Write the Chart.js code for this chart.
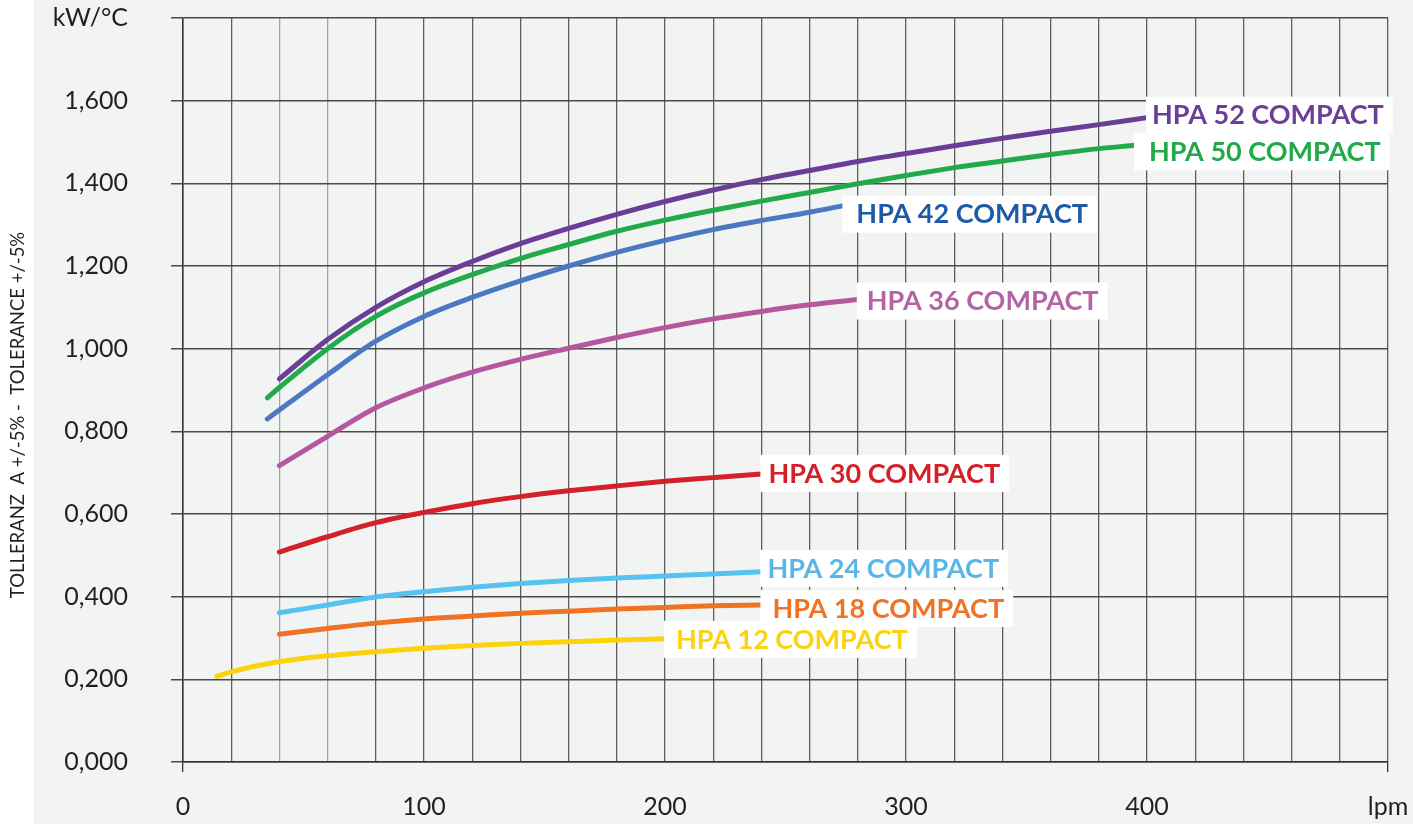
<!DOCTYPE html>
<html>
<head>
<meta charset="utf-8">
<script src="https://cdn.jsdelivr.net/npm/chart.js@4"></script>
<style>
  html, body { margin: 0; padding: 0; background: #ffffff; }
  canvas { display: block; }
</style>
</head>
<body>
<canvas id="chart" width="1413" height="824"></canvas>
<script>
// flow (lpm) / capacity (kW/°C)
const flow52 = [40, 60, 80, 100, 120, 140, 160, 180, 200, 220, 240, 260, 280, 300, 320, 340, 360, 380, 400];
const kw52 = [0.927, 1.022, 1.100, 1.162, 1.211, 1.254, 1.291, 1.325, 1.356, 1.384, 1.409, 1.431, 1.453, 1.472, 1.491, 1.509, 1.526, 1.542, 1.559];

const flow50 = [35, 40, 60, 80, 100, 140, 160, 180, 200, 220, 240, 260, 280, 300, 320, 340, 360, 380, 395];
const kw50 = [0.881, 0.906, 1.000, 1.078, 1.135, 1.218, 1.252, 1.284, 1.311, 1.335, 1.357, 1.378, 1.399, 1.419, 1.438, 1.454, 1.470, 1.484, 1.492];

const flow42 = [35, 60, 80, 100, 120, 140, 160, 180, 200, 220, 240, 260, 274];
const kw42 = [0.830, 0.937, 1.018, 1.078, 1.124, 1.164, 1.200, 1.233, 1.262, 1.288, 1.310, 1.330, 1.346];

const flow36 = [40, 60, 80, 100, 120, 140, 160, 180, 200, 220, 240, 260, 280];
const kw36 = [0.717, 0.788, 0.857, 0.905, 0.943, 0.974, 1.001, 1.027, 1.051, 1.072, 1.090, 1.106, 1.119];

const flow30 = [40, 60, 80, 100, 120, 140, 160, 180, 200, 220, 240];
const kw30 = [0.508, 0.545, 0.579, 0.604, 0.625, 0.642, 0.656, 0.668, 0.679, 0.688, 0.697];

const flow24 = [40, 60, 80, 100, 120, 140, 160, 180, 200, 220, 240];
const kw24 = [0.361, 0.380, 0.399, 0.412, 0.423, 0.432, 0.439, 0.445, 0.450, 0.455, 0.460];

const flow18 = [40, 60, 80, 100, 120, 140, 160, 180, 200, 220, 240];
const kw18 = [0.309, 0.323, 0.336, 0.346, 0.353, 0.360, 0.365, 0.370, 0.374, 0.378, 0.380];

const flow12 = [14, 20, 40, 60, 80, 100, 120, 140, 160, 180, 200];
const kw12 = [0.207, 0.218, 0.243, 0.257, 0.267, 0.275, 0.282, 0.287, 0.291, 0.295, 0.298];

const seriesNames = ["HPA 52 COMPACT", "HPA 50 COMPACT", "HPA 42 COMPACT", "HPA 36 COMPACT",
  "HPA 30 COMPACT", "HPA 24 COMPACT", "HPA 18 COMPACT", "HPA 12 COMPACT"];

const yTicks = [0, 0.2, 0.4, 0.6, 0.8, 1.0, 1.2, 1.4, 1.6, 1.8];
const xTickLabels = [0, 100, 200, 300, 400];
const yUnit = "kW/°C";
const xUnit = "lpm";
const yTitle = "TOLLERANZ  A +/-5% -  TOLERANCE +/-5%";

const lineColors = ["#6a3d97", "#22a94a", "#4a78c2", "#b5579f", "#d42028", "#56c2ef", "#f07324", "#fcd20c"];
const textColors = ["#6b3f98", "#22a94a", "#1f5aa6", "#b563a5", "#d42028", "#5ab6e6", "#f07324", "#fcd20c"];
// label placement relative to the end of each curve
const labelOffsets = [[5, -3], [14, 6], [13, 8], [9, 1], [7, -1], [6, -4], [11, 3], [11, 0]];

const flows = [flow52, flow50, flow42, flow36, flow30, flow24, flow18, flow12];
const kws = [kw52, kw50, kw42, kw36, kw30, kw24, kw18, kw12];

Chart.defaults.font.family = "Lato, 'Open Sans', sans-serif";
Chart.defaults.color = "#231f20";

const backdrop = {
  id: "backdrop",
  beforeDraw(chart) {
    const { ctx, width, height } = chart;
    ctx.save();
    ctx.fillStyle = "#f2f4f3";
    ctx.fillRect(34, 0, width - 34, height);
    ctx.restore();
  },
  afterDraw(chart) {
    const { ctx } = chart;
    ctx.save();
    ctx.translate(18, 415);
    ctx.rotate(-Math.PI / 2);
    ctx.font = "18.5px Lato";
    ctx.fillStyle = "#231f20";
    ctx.textAlign = "center";
    ctx.textBaseline = "middle";
    ctx.fillText(yTitle, 0, 0);
    ctx.restore();
  },
};

const curveLabels = {
  id: "curveLabels",
  afterDatasetsDraw(chart) {
    const { ctx } = chart;
    ctx.save();
    ctx.font = "bold 27px Lato";
    ctx.textBaseline = "middle";
    const spots = chart.data.datasets.map((ds, i) => {
      const pts = chart.getDatasetMeta(i).data;
      const end = pts[pts.length - 1];
      const [dx, dy] = labelOffsets[i];
      return { x: end.x, y: end.y + dy, tx: end.x + dx, w: ctx.measureText(ds.label).width };
    });
    ctx.fillStyle = "#ffffff";
    spots.forEach((s) => {
      ctx.fillRect(s.x - 1, s.y - 18, s.tx - s.x + s.w + 10, 37);
    });
    spots.forEach((s, i) => {
      ctx.fillStyle = textColors[i];
      ctx.fillText(chart.data.datasets[i].label, s.tx, s.y + 1);
    });
    ctx.restore();
  },
};

new Chart(document.getElementById("chart"), {
  type: "line",
  data: {
    datasets: seriesNames.map((name, i) => ({
      label: name,
      data: flows[i].map((f, j) => ({ x: f, y: kws[i][j] })),
      borderColor: lineColors[i],
      borderWidth: 5,
      borderCapStyle: "round",
      borderJoinStyle: "round",
      pointRadius: 0,
      cubicInterpolationMode: "monotone",
      fill: false,
    })),
  },
  options: {
    responsive: false,
    animation: false,
    layout: { padding: { top: 18, right: 25, left: 0, bottom: 0 } },
    plugins: {
      legend: { display: false },
      tooltip: { enabled: false },
    },
    scales: {
      x: {
        type: "linear",
        min: 0,
        max: 500,
        afterFit: (s) => {
          s.height = 62;
          s.paddingLeft = 0;
          s.paddingRight = 0;
        },
        afterBuildTicks: (s) => {
          s.ticks = [];
          for (let v = 0; v <= 500; v += 20) s.ticks.push({ value: v });
        },
        ticks: {
          autoSkip: false,
          maxRotation: 0,
          padding: 20,
          font: { size: 25 },
          color: "#231f20",
          callback: (v) => (v === 500 ? xUnit : xTickLabels.includes(v) ? String(v) : ""),
        },
        grid: {
          color: (c) => ([40, 60].includes(c.tick && c.tick.value) ? "#a3a3a3" : "#5e5e5e"),
          lineWidth: 1.3,
          tickLength: 10,
          tickColor: (c) => (c.tick && (c.tick.value === 0 || c.tick.value === 500) ? "#333333" : "rgba(0,0,0,0)"),
        },
        border: { color: "#333333", width: 1.5 },
      },
      y: {
        min: 0,
        max: 1.8,
        afterFit: (s) => {
          s.width = 183;
          s.paddingTop = 0;
          s.paddingBottom = 0;
        },
        afterBuildTicks: (s) => {
          s.ticks = yTicks.map((v) => ({ value: v }));
        },
        ticks: {
          padding: 43,
          font: { size: 25 },
          color: "#231f20",
          callback: (v) => (Math.abs(v - 1.8) < 1e-6 ? yUnit : v.toFixed(3).replace(".", ",")),
        },
        grid: {
          color: "#4a4a4a",
          lineWidth: 1.5,
          tickLength: 12,
          tickColor: "#4a4a4a",
        },
        border: { color: "#333333", width: 1.5 },
      },
    },
  },
  plugins: [backdrop, curveLabels],
});
</script>
</body>
</html>
